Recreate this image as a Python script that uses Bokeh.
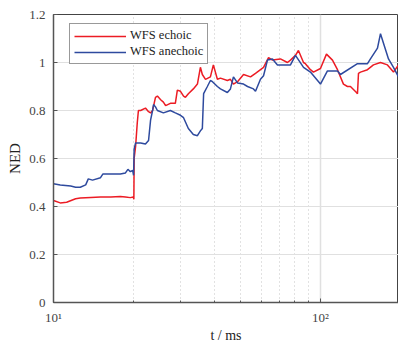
from bokeh.plotting import figure
from bokeh.models import FixedTicker, Legend, LegendItem, Range1d
from bokeh.embed import file_html
from bokeh.resources import INLINE

# ---- data ----
t_echoic = [10, 10.6, 11.2, 12.1, 12.6, 13.8, 15.0, 16.4, 17.8, 18.6, 19.4, 19.9, 20.0,
            20.05, 20.3, 20.6, 20.8, 21.2, 22.1, 22.7, 23.1, 23.5, 24.1, 24.5, 25.2, 25.8,
            26.3, 27.4, 28.6, 29.1, 29.9, 30.7, 31.2, 32.0, 33.4, 34.6, 35.5, 36.1, 37.1,
            38.7, 39.7, 41.1, 42.2, 44.8, 46.0, 47.2, 48.9, 51.5, 54.7, 57.1, 61.2, 63.9,
            66.1, 70.8, 75.2, 77.2, 80.6, 82.7, 86.4, 87.8, 91.7, 94.1, 100, 105.3, 110.9,
            115.8, 121.9, 126.2, 129.5, 136.4, 137.6, 138.8, 141.2, 150.0, 157.9, 167.8,
            178.2, 187.7, 196.0]
ned_echoic = [0.425, 0.415, 0.418, 0.432, 0.435, 0.438, 0.44, 0.44, 0.442, 0.44, 0.437, 0.44, 0.43,
              0.60, 0.65, 0.75, 0.80, 0.80, 0.81, 0.795, 0.79, 0.80, 0.855, 0.86, 0.845, 0.835,
              0.82, 0.83, 0.83, 0.885, 0.88, 0.86, 0.855, 0.87, 0.89, 0.91, 0.98, 0.95, 0.93,
              0.94, 0.99, 0.93, 0.935, 0.925, 0.93, 0.91, 0.92, 0.95, 0.94, 0.955, 0.98, 1.02,
              1.01, 1.015, 1.0, 1.01, 1.03, 1.05, 1.0, 0.995, 0.97, 0.96, 0.975, 1.035, 1.01,
              0.97, 0.91, 0.90, 0.90, 0.875, 0.87, 0.955, 0.96, 0.97, 0.99, 1.0,
              0.99, 0.96, 0.99]

t_anechoic = [10, 10.6, 11.6, 12.1, 12.6, 13.2, 13.5, 14.0, 15.0, 15.3, 16.4, 17.8, 18.6, 19.0,
              19.4, 19.8, 19.95, 20.05, 20.3, 21.2, 22.1, 22.7, 23.1, 23.5, 23.7, 24.1, 24.5,
              25.8, 27.4, 28.6, 29.9, 30.7, 32.0, 33.4, 34.6, 35.5, 36.1, 36.5, 37.7, 38.7,
              39.4, 41.1, 42.2, 44.8, 46.0, 47.2, 48.9, 51.5, 53.3, 56.1, 57.1, 59.6, 61.2,
              63.3, 66.1, 69.0, 75.2, 77.2, 80.6, 86.4, 91.7, 100, 106.2, 115.8, 118.8, 137.6,
              150.0, 153.9, 163.5, 167.8, 172.2, 179.8, 187.7, 196.0]
ned_anechoic = [0.495, 0.49, 0.485, 0.48, 0.48, 0.49, 0.515, 0.51, 0.52, 0.535, 0.535, 0.535, 0.54, 0.555,
                0.545, 0.55, 0.53, 0.64, 0.665, 0.665, 0.66, 0.675, 0.76, 0.80, 0.825, 0.815, 0.80,
                0.79, 0.80, 0.79, 0.78, 0.77, 0.725, 0.70, 0.695, 0.715, 0.725, 0.87, 0.90, 0.925,
                0.92, 0.90, 0.89, 0.875, 0.89, 0.94, 0.915, 0.91, 0.90, 0.89, 0.88, 0.93, 0.945,
                1.01, 1.015, 0.99, 0.99, 0.99, 1.03, 0.98, 0.96, 0.91, 0.965, 0.965, 0.95, 0.995,
                0.995, 1.015, 1.06, 1.12, 1.08, 1.015, 0.98, 0.94]

y_ticks = [0, 0.2, 0.4, 0.6, 0.8, 1.0, 1.2]
y_tick_labels = ["0", "0.2", "0.4", "0.6", "0.8", "1", "1.2"]
x_major = [10, 100]
x_major_labels = ["10\u00b9", "10\u00b2"]
x_minor = [20, 30, 40, 50, 60, 70, 80, 90, 200]

RED = "#ec1c24"
BLUE = "#2e4a9e"
FONT = "Liberation Serif"

p = figure(width=398, height=347, x_axis_type="log",
           x_range=Range1d(10, 196), y_range=Range1d(0, 1.2),
           output_backend="svg", toolbar_location=None,
           min_border_left=53, min_border_right=0, min_border_top=14, min_border_bottom=45)
p.background_fill_color = "white"
p.border_fill_color = "white"
p.outline_line_color = "#444444"
p.outline_line_width = 1

r1 = p.line(t_echoic, ned_echoic, line_color=RED, line_width=1.5)
r2 = p.line(t_anechoic, ned_anechoic, line_color=BLUE, line_width=1.5)

# axes
p.xaxis.ticker = FixedTicker(ticks=x_major, minor_ticks=x_minor)
p.xaxis.major_label_overrides = dict(zip(x_major, x_major_labels))
p.yaxis.ticker = FixedTicker(ticks=y_ticks, minor_ticks=[])
p.yaxis.major_label_overrides = dict(zip(y_ticks, y_tick_labels))

for ax in (p.xaxis, p.yaxis):
    ax.axis_line_color = "#555555"
    ax.axis_line_width = 1.5
    ax.major_tick_in = 4
    ax.major_tick_out = 0
    ax.minor_tick_in = 2
    ax.minor_tick_out = 0
    ax.major_tick_line_color = "#555555"
    ax.minor_tick_line_color = "#555555"
    ax.major_label_text_font = FONT
    ax.major_label_text_font_size = "13px"
    ax.major_label_text_color = "#444444"
    ax.axis_label_text_font = FONT
    ax.axis_label_text_font_style = "normal"
    ax.axis_label_text_color = "#222222"

p.xaxis.axis_label = "t / ms"
p.xaxis.axis_label_text_font_size = "14px"
p.xaxis.major_label_standoff = 7
p.xaxis.axis_label_standoff = 0
p.yaxis.axis_label = "NED"
p.yaxis.axis_label_text_font_size = "15px"
p.yaxis.major_label_standoff = 8
p.yaxis.axis_label_standoff = 3

# grids
p.ygrid.grid_line_color = "#e0e0e0"
p.ygrid.grid_line_width = 1
p.xgrid.grid_line_color = "#e0e0e0"
p.xgrid.grid_line_width = 1.5
p.xgrid.minor_grid_line_color = "#c4c4c4"
p.xgrid.minor_grid_line_dash = "1 3"
p.xgrid.minor_grid_line_width = 1

legend = Legend(items=[LegendItem(label="WFS echoic", renderers=[r1]),
                       LegendItem(label="WFS anechoic", renderers=[r2])],
                location=(16, 238))
legend.label_text_font = FONT
legend.label_text_font_size = "12.5px"
legend.label_text_color = "#222222"
legend.glyph_width = 52
legend.glyph_height = 12
legend.label_height = 12
legend.label_standoff = 4
legend.spacing = 1
legend.padding = 4
legend.margin = 0
legend.border_line_color = "#333333"
legend.border_line_width = 1
legend.background_fill_alpha = 1
p.add_layout(legend, "center")

open("out.html", "w").write(file_html(p, INLINE))
